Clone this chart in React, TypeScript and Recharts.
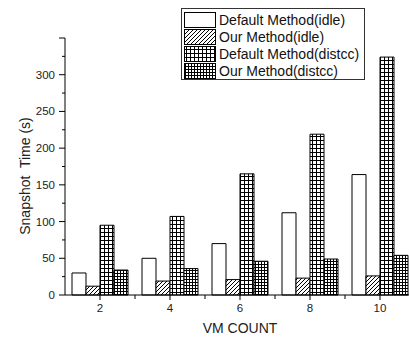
import { BarChart, Bar, XAxis, YAxis } from "recharts";

const categories = ["2", "4", "6", "8", "10"];
const defaultIdle = [30, 50, 70, 112, 164];
const ourIdle = [12, 19, 21, 23, 26];
const defaultDistcc = [95, 107, 165, 219, 324];
const ourDistcc = [34, 36, 46, 49, 54];
const yTicks = [0, 25, 50, 75, 100, 125, 150, 175, 200, 225, 250, 275, 300, 325, 350];

const seriesNames = [
  "Default Method(idle)",
  "Our Method(idle)",
  "Default Method(distcc)",
  "Our Method(distcc)",
];

const data = categories.map((c, i) => ({
  vm: c,
  defaultIdle: defaultIdle[i],
  ourIdle: ourIdle[i],
  defaultDistcc: defaultDistcc[i],
  ourDistcc: ourDistcc[i],
}));

const FONT = "'Liberation Sans', Arial, sans-serif";

// fill patterns, prefix lets the legend svg have its own copy
const Patterns = ({ p }: { p: string }) => (
  <defs>
    <pattern id={p + "hatch"} patternUnits="userSpaceOnUse" width="4" height="4">
      <rect width="4" height="4" fill="#fff" />
      <path d="M-1,1 l2,-2 M0,4 l4,-4 M3,5 l2,-2" stroke="#000" strokeWidth="1" />
    </pattern>
    <pattern id={p + "grid"} patternUnits="userSpaceOnUse" width="4" height="4">
      <rect width="4" height="4" fill="#fff" />
      <path d="M0,0.5 H4 M0.5,0 V4" stroke="#000" strokeWidth="1" />
    </pattern>
    <pattern id={p + "dense"} patternUnits="userSpaceOnUse" width="3" height="3">
      <rect width="3" height="3" fill="#fff" />
      <path d="M0,0.5 H3 M0.5,0 V3" stroke="#000" strokeWidth="1" />
    </pattern>
  </defs>
);

const fills = ["#fff", "url(#chatch)", "url(#cgrid)", "url(#cdense)"];
const legendFills = ["#fff", "url(#lhatch)", "url(#lgrid)", "url(#ldense)"];

const YTick = ({ x, y, payload }: any) => {
  const v = payload.value as number;
  const major = v % 50 === 0;
  return (
    <g>
      <line x1={x - (major ? 6 : 3)} x2={x} y1={y} y2={y} stroke="#000" />
      {major && v < 350 && (
        <text x={x - 10} y={y + 4} textAnchor="end" fontSize={11.5} fontFamily={FONT} fill="#222">
          {v}
        </text>
      )}
    </g>
  );
};

const XTick = ({ x, y, payload }: any) => (
  <g>
    <line x1={x} x2={x} y1={y} y2={y + 5} stroke="#000" />
    <line x1={x + 35} x2={x + 35} y1={y} y2={y + 4} stroke="#000" />
    <text x={x} y={y + 17} textAnchor="middle" fontSize={11.5} fontFamily={FONT} fill="#222">
      {payload.value}
    </text>
  </g>
);

const LegendBox = () => (
  <div
    style={{
      position: "absolute",
      left: 181,
      top: 8,
      width: 182,
      height: 70,
      border: "1px solid #333",
      background: "#fff",
    }}
  >
    <svg width={182} height={70} style={{ position: "absolute", left: 0, top: 0 }}>
      <Patterns p="l" />
      {seriesNames.map((name, i) => (
        <g key={name}>
          <rect x={2.5} y={3.5 + i * 17} width={31} height={15} fill={legendFills[i]} stroke="#000" />
          <text x={37} y={16 + i * 17} fontSize={14} fontFamily={FONT} fill="#111">
            {name}
          </text>
        </g>
      ))}
    </svg>
  </div>
);

export default function App() {
  return (
    <div
      style={{
        position: "absolute",
        left: 0,
        top: 0,
        width: 409,
        height: 337,
        overflow: "hidden",
        background: "#fff",
      }}
    >
      <BarChart
        width={430}
        height={337}
        data={data}
        margin={{ top: 38, right: 15, left: 0, bottom: 0 }}
        barCategoryGap="10%"
        barGap={0}
      >
        <Patterns p="c" />
        <XAxis
          dataKey="vm"
          height={42}
          tickLine={false}
          tickSize={0}
          tickMargin={0}
          axisLine={{ stroke: "#000" }}
          tick={<XTick />}
          interval={0}
        />
        <YAxis
          width={65}
          domain={[0, 350]}
          ticks={yTicks}
          interval={0}
          tickLine={false}
          tickSize={0}
          tickMargin={0}
          axisLine={{ stroke: "#000" }}
          tick={<YTick />}
        />
        <Bar dataKey="defaultIdle" fill={fills[0]} stroke="#000" isAnimationActive={false} />
        <Bar dataKey="ourIdle" fill={fills[1]} stroke="#000" isAnimationActive={false} />
        <Bar dataKey="defaultDistcc" fill={fills[2]} stroke="#000" isAnimationActive={false} />
        <Bar dataKey="ourDistcc" fill={fills[3]} stroke="#000" isAnimationActive={false} />
        <text
          x={25}
          y={176}
          transform="rotate(-90 25 176)"
          textAnchor="middle"
          dominantBaseline="central"
          fontSize={14}
          fontFamily={FONT}
          fill="#222"
          style={{ whiteSpace: "pre" }}
        >
          {"Snapshot  Time (s)"}
        </text>
        <text x={240} y={333} textAnchor="middle" fontSize={14} fontFamily={FONT} fill="#222">
          VM COUNT
        </text>
      </BarChart>
      <LegendBox />
    </div>
  );
}
